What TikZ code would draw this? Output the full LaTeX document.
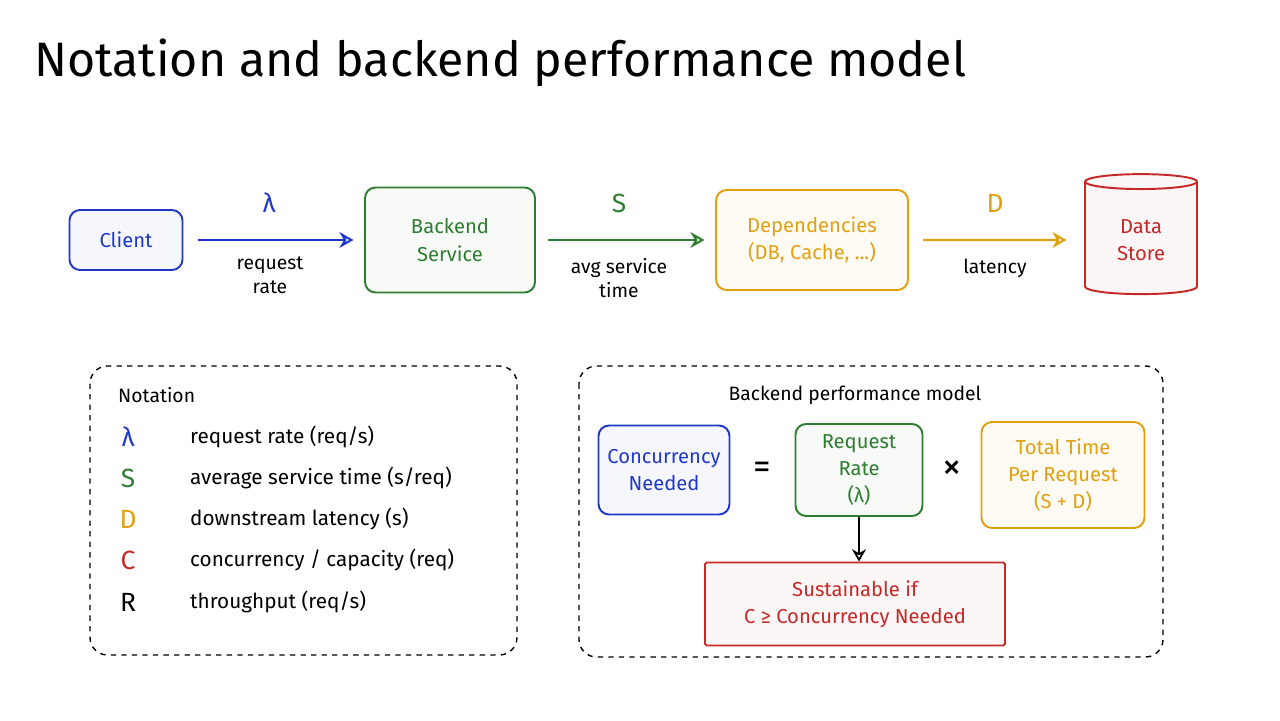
\documentclass[tikz,border=0pt]{standalone}
\usepackage{fontspec}
\setmainfont{Fira Sans}
\usetikzlibrary{arrows.meta,shapes.geometric}
\definecolor{cb}{HTML}{2038C8}
\definecolor{cg}{HTML}{2E7D32}
\definecolor{co}{HTML}{E0A010}
\definecolor{cr}{HTML}{C62828}
\begin{document}
\begin{tikzpicture}[x=0.02cm,y=-0.02cm,
  box/.style={draw=#1,fill=#1!4,rounded corners=6pt,line width=1.1pt,text=#1,align=center,font=\fontsize{11.5}{15.5}\selectfont},
  arr/.style={draw=#1,line width=1.2pt,-{Stealth[open,length=8pt,width=9pt]}},
  lab/.style={font=\fontsize{11}{13.5}\selectfont,align=center},
  row/.style={font=\fontsize{11.8}{14}\selectfont},
  sym/.style={font=\fontsize{15}{15}\selectfont,text=#1},
  dbox/.style={draw,dashed,line width=0.8pt,rounded corners=10pt}]
\useasboundingbox (0,0) rectangle (1280,720);
\node[anchor=base west,font=\fontsize{27.5}{28}\selectfont] (title) at (28,76) {Notation and backend performance model};
% top row
\node[box=cb,minimum width=113*0.02cm,minimum height=60*0.02cm] (client) at (126,240) {Client};
\node[box=cg,minimum width=170*0.02cm,minimum height=105*0.02cm] (back) at (450,240) {Backend\\Service};
\node[box=co,minimum width=192*0.02cm,minimum height=100*0.02cm] (dep) at (812,240) {Dependencies\\(DB, Cache, ...)};
\node[cylinder,shape border rotate=90,aspect=0.25,draw=cr,fill=cr!4,line width=1.1pt,text=cr,minimum width=112*0.02cm,minimum height=120*0.02cm,align=center,font=\fontsize{11.5}{15.5}\selectfont] (ds) at (1141,240) {Data\\Store};
\draw[arr=cb] ([xshift=8]client.east) -- ([xshift=-6]back.west);
\draw[arr=cg] ([xshift=7]back.east) -- ([xshift=-6]dep.west);
\draw[arr=co] ([xshift=8]dep.east) -- ([xshift=-10]ds.west);
\node[sym=cb] (l1) at (269,203) {λ};
\node[lab] (r1) at (270,275) {request\\rate};
\node[sym=cg] (l2) at (619,203) {S};
\node[lab] (r2) at (619,278) {avg service\\time};
\node[sym=co] (l3) at (995,203) {D};
\node[lab] (r3) at (995,268) {latency};
% notation
\draw[dbox] (90,366) rectangle (517,655);
\node[lab,anchor=west] (nt) at (112,395) {Notation};
\foreach \y/\s/\c/\t in {437/λ/cb/{request rate (req/s)},478/S/cg/{average service time (s/req)},519/D/co/{downstream latency (s)},560/C/cr/{concurrency / capacity (req)},602/R/black/{throughput (req/s)}}{
  \node[sym=\c] at (128,\y) {\s};
  \node[row,anchor=west] at (184,\y) {\t};
}
% model
\draw[dbox] (579,366) rectangle (1163,657);
\node[lab] (mt) at (855,395) {Backend performance model};
\node[box=cb,minimum width=131*0.02cm,minimum height=89*0.02cm] (cn) at (664,470) {Concurrency\\Needed};
\node[font=\fontsize{20}{20}\selectfont] (eq) at (762,470) {=};
\node[box=cg,minimum width=127*0.02cm,minimum height=92*0.02cm] (rr) at (859,470) {Request\\Rate\\(λ)};
\node[font=\fontsize{22}{22}\selectfont] (x) at (952,470) {×};
\node[box=co,minimum width=163*0.02cm,minimum height=106*0.02cm] (tt) at (1063,475) {Total Time\\Per Request\\(S + D)};
\node[box=cr,rounded corners=1pt,minimum width=300*0.02cm,minimum height=83*0.02cm] (sus) at (855,604) {Sustainable if\\C ≥ Concurrency Needed};
\draw[line width=1pt,-{Stealth[open,length=7pt,width=8pt]}] (rr.south) -- (rr.south |- sus.north);
\end{tikzpicture}
\end{document}
